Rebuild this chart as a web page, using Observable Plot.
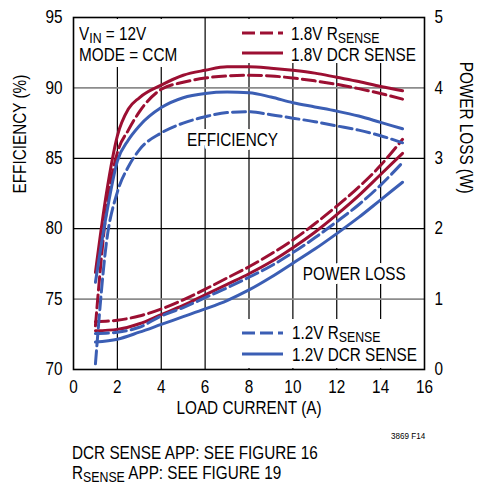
<!DOCTYPE html>
<html>
<head>
<meta charset="utf-8">
<script src="https://cdn.jsdelivr.net/npm/d3@7"></script>
<script src="https://cdn.jsdelivr.net/npm/@observablehq/plot@0.6"></script>
<style>
  html, body { margin: 0; padding: 0; background: #fff; }
  #wrap { position: relative; width: 477px; height: 485px; overflow: hidden;
          font-family: "Liberation Sans", Arial, sans-serif; color: #000; }
  .t { position: absolute; white-space: nowrap; line-height: 1; transform: scaleX(0.85); transform-origin: 0 0; }
  .box { position: absolute; background: #fff; }
  .sub { font-size: 14.5px; position: relative; top: 3px; line-height: 0; }
  svg.sw { position: absolute; overflow: visible; }
</style>
</head>
<body>
<div id="wrap">
  <div id="chart"></div>
</div>
<script>
const FONT = '"Liberation Sans", Arial, sans-serif';
const RED = "#9c0f32";
const BLUE = "#3b5eb4";

// ---- data ----
const effCurrent = [1, 1.5, 2, 2.5, 3, 4, 5, 6, 7, 8, 9, 10, 11, 12, 13, 14, 15];
const eff18DCR    = [76.9, 82.5, 86.6, 88.5, 89.3, 90.2, 90.9, 91.25, 91.5, 91.5, 91.4, 91.25, 91.05, 90.75, 90.45, 90.1, 89.8];
const eff18Rsense = [73.1, 81.3, 85.4, 87.0, 88.3, 89.9, 90.4, 90.7, 90.85, 90.9, 90.85, 90.7, 90.5, 90.25, 89.95, 89.6, 89.2];
const eff12DCR    = [76.2, 81.0, 84.8, 86.3, 87.3, 88.6, 89.3, 89.6, 89.7, 89.65, 89.35, 88.95, 88.65, 88.35, 88.0, 87.55, 87.1];
const eff12Rsense = [70.4, 79.0, 82.6, 84.4, 85.6, 86.8, 87.5, 87.95, 88.25, 88.3, 88.1, 87.85, 87.6, 87.3, 87.0, 86.6, 86.1];

const lossCurrent = [1, 2, 3, 4, 5, 6, 7, 8, 9, 10, 11, 12, 13, 14, 15];
const loss18Rsense = [0.68, 0.70, 0.76, 0.86, 0.99, 1.14, 1.30, 1.46, 1.64, 1.84, 2.07, 2.32, 2.59, 2.90, 3.27];
const loss18DCR    = [0.55, 0.57, 0.65, 0.78, 0.91, 1.06, 1.21, 1.36, 1.53, 1.73, 1.95, 2.20, 2.47, 2.77, 3.07];
const loss12Rsense = [0.51, 0.53, 0.60, 0.76, 0.88, 1.02, 1.16, 1.31, 1.47, 1.66, 1.87, 2.10, 2.34, 2.62, 2.94];
const loss12DCR    = [0.39, 0.43, 0.53, 0.64, 0.75, 0.86, 0.98, 1.13, 1.31, 1.51, 1.71, 1.93, 2.16, 2.41, 2.66];

const xTicks = [0, 2, 4, 6, 8, 10, 12, 14, 16];
const xGrid = [2, 4, 6, 8, 10, 12, 14];
const effTicks = [70, 75, 80, 85, 90, 95];
const gridDark = [80, 85];
const gridGray = [75, 90];

// ---- tables ----
const effSeries = [
  {key: "1.8V DCR", vals: eff18DCR, color: RED, dash: null},
  {key: "1.8V RSENSE", vals: eff18Rsense, color: RED, dash: "13,5"},
  {key: "1.2V DCR", vals: eff12DCR, color: BLUE, dash: null},
  {key: "1.2V RSENSE", vals: eff12Rsense, color: BLUE, dash: "13,5"}
];
const lossSeries = [
  {key: "1.8V DCR", vals: loss18DCR, color: RED, dash: null},
  {key: "1.8V RSENSE", vals: loss18Rsense, color: RED, dash: "13,5"},
  {key: "1.2V DCR", vals: loss12DCR, color: BLUE, dash: null},
  {key: "1.2V RSENSE", vals: loss12Rsense, color: BLUE, dash: "13,5"}
];
// power loss (W) shares the efficiency axis: 0..5 W  <->  70..95 %
const lossToEff = w => 70 + w * 5;

const lineMarks = [];
for (const s of lossSeries) {
  const rows = lossCurrent.map((x, i) => ({x, y: lossToEff(s.vals[i])}));
  lineMarks.push(Plot.line(rows, {x: "x", y: "y", stroke: s.color, strokeWidth: 3,
    strokeDasharray: s.dash, curve: "monotone-x"}));
}
for (const s of effSeries) {
  const rows = effCurrent.map((x, i) => ({x, y: s.vals[i]}));
  lineMarks.push(Plot.line(rows, {x: "x", y: "y", stroke: s.color, strokeWidth: 3,
    strokeDasharray: s.dash, curve: "monotone-x"}));
}

const chart = Plot.plot({
  width: 477, height: 430,
  marginLeft: 73, marginRight: 53, marginTop: 17, marginBottom: 61,
  style: {fontFamily: FONT, fontSize: "18px", color: "#000", background: "#fff"},
  x: {domain: [0, 16]},
  y: {domain: [70, 95]},
  marks: [
    Plot.ruleX(xGrid, {stroke: "#000", strokeWidth: 1.2}),
    Plot.ruleY(gridDark, {stroke: "#000", strokeWidth: 1.2}),
    Plot.ruleY(gridGray, {stroke: "#8c8c8c", strokeWidth: 1.6}),
    Plot.text(["EFFICIENCY"], {x: 7.25, y: 86.3, text: d => d, fontSize: 18, fill: "#000",
      stroke: "#fff", strokeWidth: 8}),
    Plot.text(["POWER LOSS"], {x: 12.8, y: lossToEff(1.35), text: d => d, fontSize: 18, fill: "#000",
      stroke: "#fff", strokeWidth: 8}),
    ...lineMarks,
    Plot.frame({stroke: "#000", strokeWidth: 1.6}),
    Plot.axisX({ticks: xTicks, tickSize: 0, tickPadding: 11, label: null, fontSize: 18}),
    Plot.axisY({ticks: effTicks, tickSize: 0, tickPadding: 11, label: null, fontSize: 18}),
    Plot.axisY({anchor: "right", ticks: effTicks, tickFormat: d => String((d - 70) / 5),
      tickSize: 0, tickPadding: 10, label: null, fontSize: 18}),
    Plot.text(["LOAD CURRENT (A)"], {frameAnchor: "bottom", dy: 44, text: d => d, fontSize: 18}),
    Plot.text(["EFFICIENCY (%)"], {frameAnchor: "left", dx: -53, rotate: -90, text: d => d, fontSize: 18}),
    Plot.text(["POWER LOSS (W)"], {frameAnchor: "right", dx: 41, rotate: 90, text: d => d, fontSize: 18})
  ]
});
const wrap = document.getElementById("wrap");
document.getElementById("chart").appendChild(chart);

// condensed look (the original uses a condensed grotesque)
chart.querySelectorAll("text").forEach(t => {
  const len = t.getComputedTextLength();
  if (len > 0) {
    t.setAttribute("textLength", (len * 0.85).toFixed(2));
    t.setAttribute("lengthAdjust", "spacingAndGlyphs");
  }
});

// ---- annotation boxes (white background, covering grid like the original) ----
function add(html) { wrap.insertAdjacentHTML("beforeend", html); }
function swatch(x, y, w, color, dash) {
  return `<svg class="sw" style="left:${x}px;top:${y - 3}px" width="${w}" height="6">
    <line x1="0" y1="3" x2="${w}" y2="3" stroke="${color}" stroke-width="3" ${dash ? `stroke-dasharray="${dash}"` : ""}/></svg>`;
}
// top-left condition text
add(`<div class="box" style="left:75px;top:19px;width:108px;height:48px"></div>`);
add(`<div class="t" style="left:79px;top:25px;font-size:18px">V<span class="sub">IN</span> = 12V</div>`);
add(`<div class="t" style="left:79px;top:46px;font-size:18px">MODE = CCM</div>`);
// top legend
add(`<div class="box" style="left:236px;top:19px;width:186px;height:44px"></div>`);
add(swatch(241.5, 33.3, 41, RED, "13,5"));
add(swatch(241.5, 53.3, 41, RED, null));
add(`<div class="t" style="left:291px;top:25.3px;font-size:18px">1.8V R<span class="sub">SENSE</span></div>`);
add(`<div class="t" style="left:291px;top:46px;font-size:18px">1.8V DCR SENSE</div>`);
// bottom legend
add(`<div class="box" style="left:236px;top:319px;width:186px;height:48.5px"></div>`);
add(swatch(241.5, 333.3, 41, BLUE, "13,5"));
add(swatch(241.5, 354.3, 41, BLUE, null));
add(`<div class="t" style="left:291.5px;top:323.5px;font-size:18px">1.2V R<span class="sub">SENSE</span></div>`);
add(`<div class="t" style="left:291.5px;top:346px;font-size:18px">1.2V DCR SENSE</div>`);
// footnotes
add(`<div class="t" style="right:52px;top:430.5px;font-size:9.5px;transform-origin:100% 0">3869 F14</div>`);
add(`<div class="t" style="left:72px;top:444px;font-size:18px">DCR SENSE APP: SEE FIGURE 16</div>`);
add(`<div class="t" style="left:72px;top:464px;font-size:18px">R<span class="sub">SENSE</span> APP: SEE FIGURE 19</div>`);
</script>
</body>
</html>
